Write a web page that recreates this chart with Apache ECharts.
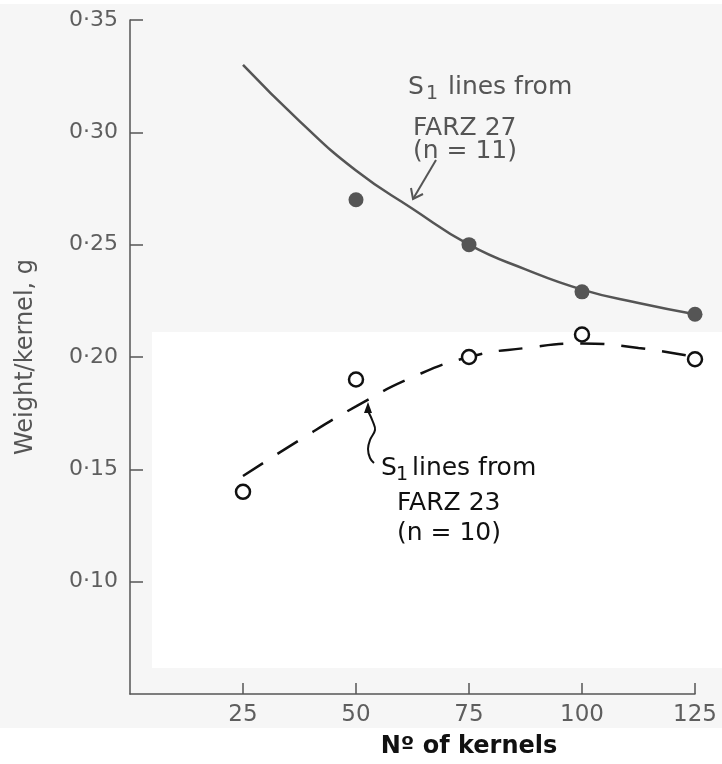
<!DOCTYPE html>
<html>
<head>
<meta charset="utf-8">
<script src="https://cdn.jsdelivr.net/npm/echarts@6/dist/echarts.min.js"></script>
<style>
  html, body { margin: 0; padding: 0; background: #fff; }
  #main { width: 722px; height: 764px; }
</style>
</head>
<body>
<div id="main"></div>
<script>
// 数据：粒数 与 单粒重 (g)
var kernels = [25, 50, 75, 100, 125];
// FARZ 27 实心点（25 处无点）
var farz27X = [50, 75, 100, 125];
var farz27 = [0.270, 0.250, 0.229, 0.219];
// FARZ 23 空心点
var farz23 = [0.140, 0.190, 0.200, 0.210, 0.199];
// 拟合曲线
var curveX = [25, 37.5, 50, 62.5, 75, 87.5, 100, 112.5, 125];
var fit27 = [0.330, 0.305, 0.283, 0.266, 0.250, 0.239, 0.230, 0.224, 0.219];
var fit23 = [0.147, 0.163, 0.178, 0.191, 0.200, 0.204, 0.206, 0.204, 0.200];

function pairs(xs, ys) {
    return xs.map(function (x, i) { return [x, ys[i]]; });
}

var grey = '#555';
var ink = '#111';
var font = 'DejaVu Sans';

var myChart = echarts.init(document.getElementById('main'));

// 注释文字
function txt(x, y, str, color, size) {
    return {
        type: 'text', x: x, y: y, z: 10,
        style: { text: str, fill: color, font: (size || 25) + 'px "DejaVu Sans"', verticalAlign: 'middle' }
    };
}
// "S1 lines from" 三行注释，1 为下标
function note(x, y, o, color) {
    return [
        txt(x, y, 'S', color),
        txt(x + o.subDx, y + 7, '1', color, 19),
        txt(x + o.linesDx, y, 'lines from', color),
        txt(x + o.indent, y + o.dy2, o.line2, color),
        txt(x + o.indent, y + o.dy3, o.line3, color)
    ];
}

myChart.setOption({
    backgroundColor: '#f6f6f6',
    animation: false,
    textStyle: { fontFamily: font },
    grid: { left: 130, right: 27, top: 20, bottom: 70 },
    xAxis: {
        type: 'value',
        min: 0,
        max: 125,
        interval: 25,
        axisLine: { onZero: false, lineStyle: { color: grey, width: 1.5 } },
        axisTick: { inside: true, length: 11, lineStyle: { color: grey, width: 1.5 } },
        axisLabel: { showMinLabel: false, color: '#5e5e5e', fontSize: 23, margin: 10 },
        splitLine: { show: false }
    },
    yAxis: {
        type: 'value',
        min: 0.05,
        max: 0.35,
        interval: 0.05,
        name: 'Weight/kernel, g',
        nameLocation: 'middle',
        nameGap: 92,
        nameTextStyle: { color: grey, fontSize: 24, fontFamily: font },
        axisLine: { onZero: false, lineStyle: { color: grey, width: 1.5 } },
        axisTick: { inside: true, length: 13, lineStyle: { color: grey, width: 1.5 } },
        axisLabel: {
            showMinLabel: false,
            color: '#5e5e5e',
            fontSize: 22,
            margin: 12,
            formatter: function (v) { return v.toFixed(2).replace('.', '·'); }
        },
        splitLine: { show: false }
    },
    series: [
        {
            name: 'FARZ 27 fit',
            type: 'line',
            smooth: true,
            showSymbol: false,
            z: 2,
            lineStyle: { color: grey, width: 2.5 },
            data: pairs(curveX, fit27)
        },
        {
            name: 'FARZ 23 fit',
            type: 'line',
            smooth: true,
            showSymbol: false,
            z: 2,
            lineStyle: { color: ink, width: 2.5, type: [24, 17] },
            data: pairs(curveX, fit23)
        },
        {
            name: 'FARZ 27',
            type: 'scatter',
            symbolSize: 15,
            z: 3,
            itemStyle: { color: grey, opacity: 1 },
            data: pairs(farz27X, farz27)
        },
        {
            name: 'FARZ 23',
            type: 'scatter',
            symbolSize: 14,
            z: 3,
            itemStyle: { color: '#fff', borderColor: ink, borderWidth: 2.5, opacity: 1 },
            data: pairs(kernels, farz23)
        }
    ]
});

// x 轴名称居中于 75
var nameX = myChart.convertToPixel({ gridIndex: 0 }, [75, 0.05])[0];

var graphics = [
    // 扫描件的白色补丁
    { type: 'rect', z: -10, silent: true, shape: { x: 152, y: 332, width: 570, height: 336 }, style: { fill: '#fff' } },
    { type: 'rect', z: -10, silent: true, shape: { x: 0, y: 728, width: 722, height: 36 }, style: { fill: '#fff' } },
    { type: 'rect', z: -10, silent: true, shape: { x: 0, y: 0, width: 722, height: 4 }, style: { fill: '#fff' } },
    {
        type: 'text', x: nameX, y: 747, z: 10,
        style: { text: 'Nº of kernels', fill: ink, font: 'bold 24px "DejaVu Sans"', align: 'center', verticalAlign: 'middle' }
    },
    {
        type: 'polyline', z: 10,
        shape: { points: [[436, 160], [413, 199]] },
        style: { stroke: grey, lineWidth: 2, fill: null }
    },
    {
        type: 'polyline', z: 10,
        shape: { points: [[411, 188], [413, 199], [423, 194]] },
        style: { stroke: grey, lineWidth: 2, fill: null }
    },
    {
        type: 'polyline', z: 10,
        shape: { points: [[368, 411], [373, 422], [375, 430], [370, 440], [368, 449], [370, 458], [374, 463]], smooth: 0.4 },
        style: { stroke: ink, lineWidth: 2, fill: null }
    },
    {
        type: 'polygon', z: 10,
        shape: { points: [[368, 402], [364, 413], [372, 413]] },
        style: { fill: ink }
    }
];
graphics = graphics
    .concat(note(408, 87, { subDx: 18, linesDx: 40, indent: 5, dy2: 41, line2: 'FARZ 27', dy3: 64, line3: '(n = 11)' }, grey))
    .concat(note(381, 468, { subDx: 15, linesDx: 31, indent: 16, dy2: 35, line2: 'FARZ 23', dy3: 65, line3: '(n = 10)' }, ink));

myChart.setOption({ graphic: graphics });
</script>
</body>
</html>
